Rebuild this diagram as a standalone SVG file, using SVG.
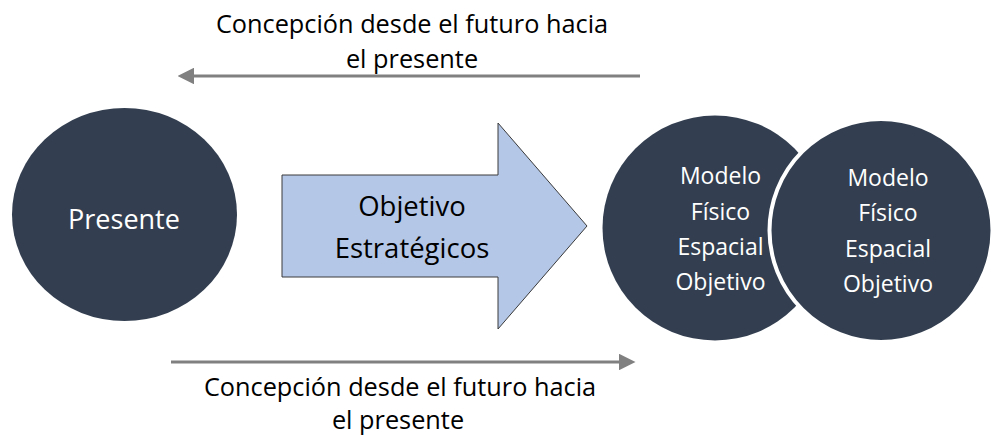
<svg xmlns="http://www.w3.org/2000/svg" width="993" height="436" viewBox="0 0 993 436">
<defs>
<style>
.lbl{font-family:"Open Sans","Noto Sans",sans-serif;fill:#000;text-anchor:middle}
.wt{font-family:"Open Sans","Noto Sans",sans-serif;fill:#fff;text-anchor:middle}
.node{fill:#333f50}
.conn{stroke:#808080;stroke-width:3;fill:none}
</style>
<marker id="ah" viewBox="0 0 10 10" refX="0" refY="5" markerWidth="5.5" markerHeight="5.5" orient="auto" markerUnits="strokeWidth">
<path d="M0,0 L10,5 L0,10 z" fill="#808080"/>
</marker>
</defs>
<rect width="993" height="436" fill="#fff"/>
<g id="connectors">
<line class="conn" x1="640" y1="76" x2="194" y2="76" marker-end="url(#ah)"/>
<line class="conn" x1="171" y1="362" x2="619" y2="362" marker-end="url(#ah)"/>
</g>
<g id="label-top">
<text class="lbl" font-size="25.3" x="412" y="33">Concepción desde el futuro hacia</text>
<text class="lbl" font-size="25.3" x="412" y="68">el presente</text>
</g>
<g id="label-bottom">
<text class="lbl" font-size="25.3" x="400" y="396">Concepción desde el futuro hacia</text>
<text class="lbl" font-size="25.3" x="398" y="429">el presente</text>
</g>
<g id="presente">
<ellipse class="node" cx="124.5" cy="214.5" rx="112.5" ry="106.5"/>
<text class="wt" font-size="27" x="124" y="229">Presente</text>
</g>
<g id="objetivo-estrategicos">
<path d="M282,175 L498,175 L498,123 L587,226 L498,329 L498,277 L282,277 Z" fill="#b4c7e7" stroke="#3a3a3a" stroke-width="1"/>
<text class="lbl" font-size="27.5" x="412" y="216">Objetivo</text>
<text class="lbl" font-size="27.5" x="412" y="258">Estratégicos</text>
</g>
<g id="modelo-1">
<circle class="node" cx="715" cy="228" r="112.5"/>
<text class="wt" font-size="23" x="720.5" y="184">Modelo</text>
<text class="wt" font-size="23" x="720.5" y="219.5">Físico</text>
<text class="wt" font-size="23" x="720.5" y="254.5">Espacial</text>
<text class="wt" font-size="23" x="720.5" y="290">Objetivo</text>
</g>
<g id="modelo-2">
<circle class="node" cx="881" cy="230.5" r="111.5" stroke="#fff" stroke-width="4"/>
<text class="wt" font-size="23" x="888" y="185.5">Modelo</text>
<text class="wt" font-size="23" x="888" y="221">Físico</text>
<text class="wt" font-size="23" x="888" y="256.5">Espacial</text>
<text class="wt" font-size="23" x="888" y="291.5">Objetivo</text>
</g>
</svg>
